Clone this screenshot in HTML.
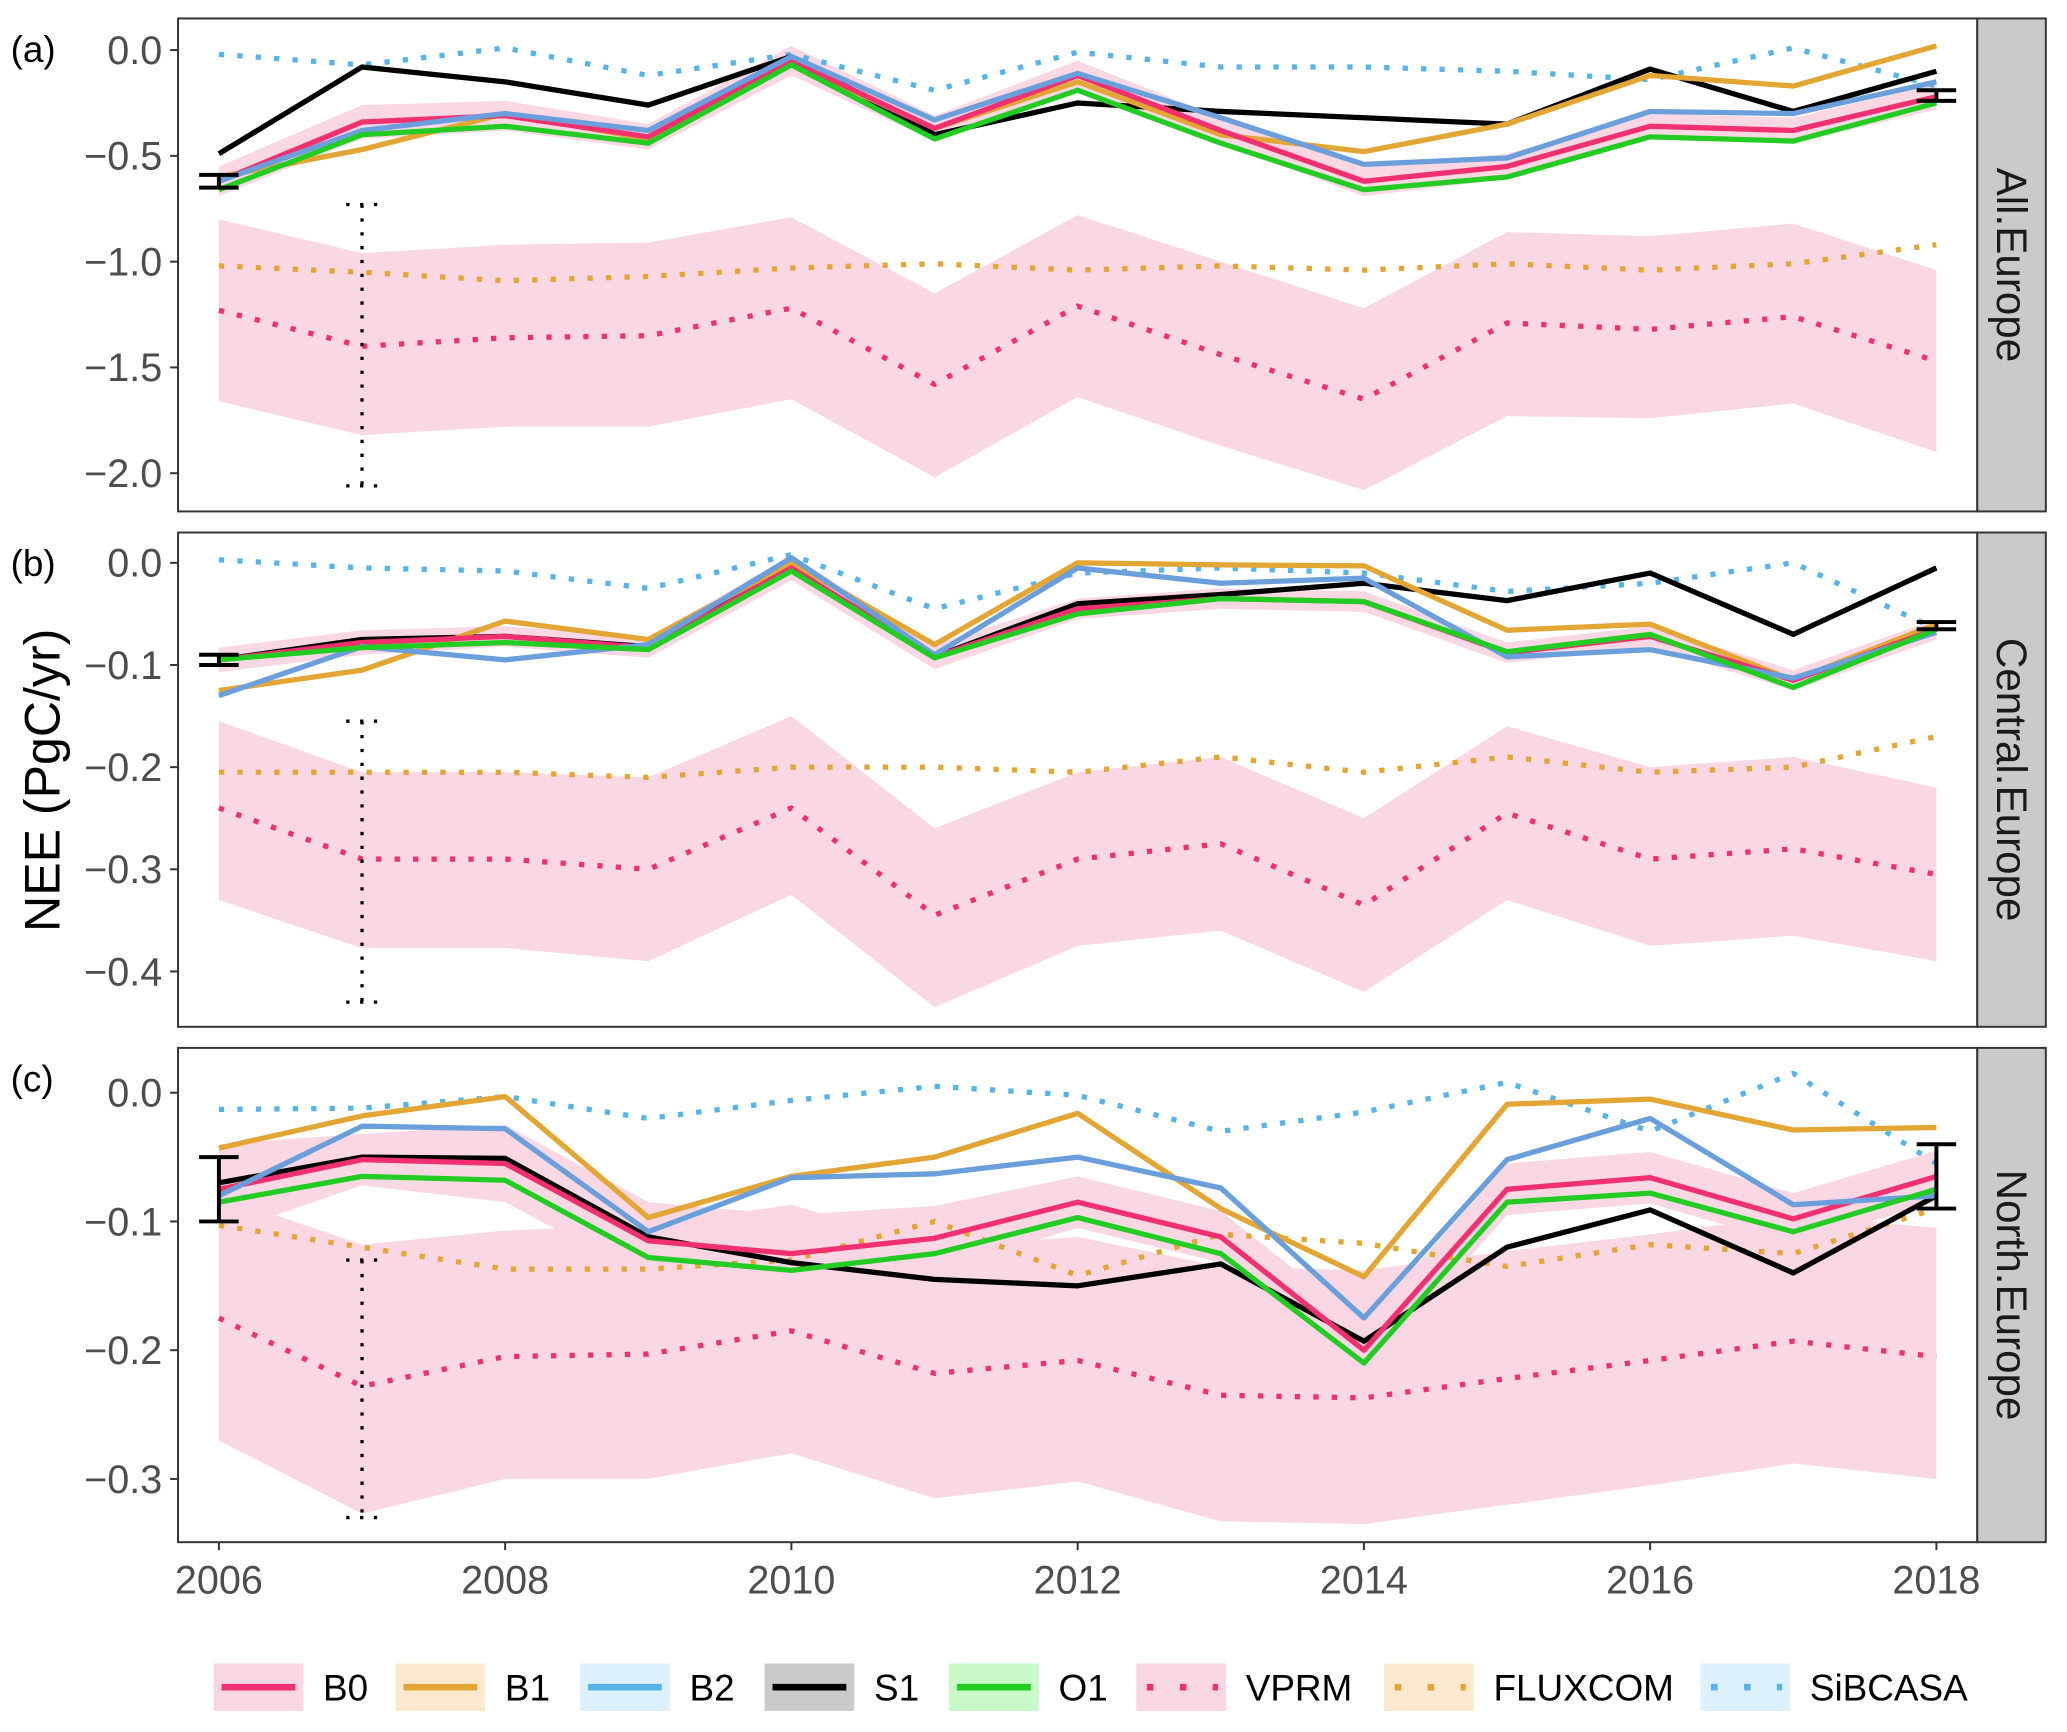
<!DOCTYPE html>
<html><head><meta charset="utf-8"><style>
html,body{margin:0;padding:0;background:#fff;}
svg{display:block;font-family:"Liberation Sans",Arial,sans-serif;}
</style></head><body>
<svg id="chart" width="2067" height="1732" viewBox="0 0 1568 1314" xmlns="http://www.w3.org/2000/svg"></svg>
<script>
const years=[2006,2007,2008,2009,2010,2011,2012,2013,2014,2015,2016,2017,2018];
const panelNames=["All.Europe","Central.Europe","North.Europe"];
const panelTags=["(a)","(b)","(c)"];
const yTicksA=[0,-0.5,-1,-1.5,-2];
const yTickLabelsA=["0.0","\u22120.5","\u22121.0","\u22121.5","\u22122.0"];
const yTicksB=[0,-0.1,-0.2,-0.3,-0.4];
const yTickLabelsB=["0.0","\u22120.1","\u22120.2","\u22120.3","\u22120.4"];
const yTicksC=[0,-0.1,-0.2,-0.3];
const yTickLabelsC=["0.0","\u22120.1","\u22120.2","\u22120.3"];
const xTicks=[2006,2008,2010,2012,2014,2016,2018];

// Panel A
const aB0=[-0.62,-0.34,-0.31,-0.41,-0.05,-0.37,-0.12,-0.38,-0.62,-0.55,-0.36,-0.38,-0.22];
const aB1=[-0.60,-0.47,-0.30,-0.42,-0.06,-0.37,-0.15,-0.40,-0.48,-0.35,-0.12,-0.17,0.02];
const aB2=[-0.62,-0.38,-0.30,-0.38,-0.03,-0.33,-0.11,-0.32,-0.54,-0.51,-0.29,-0.30,-0.15];
const aS1=[-0.49,-0.08,-0.15,-0.26,-0.03,-0.40,-0.25,-0.29,-0.32,-0.35,-0.09,-0.29,-0.10];
const aO1=[-0.66,-0.40,-0.36,-0.44,-0.07,-0.42,-0.19,-0.44,-0.66,-0.60,-0.41,-0.43,-0.25];
const aB0Spread=[0.07,0.08,0.07,0.06,0.07,0.06,0.07,0.06,0.07,0.06,0.06,0.06,0.06];
const aVPRM=[-1.23,-1.40,-1.36,-1.35,-1.22,-1.58,-1.21,-1.44,-1.65,-1.29,-1.32,-1.26,-1.47];
const aVPRMUp=[-0.80,-0.96,-0.92,-0.91,-0.79,-1.15,-0.78,-1.00,-1.22,-0.86,-0.88,-0.82,-1.04];
const aVPRMLo=[-1.66,-1.82,-1.78,-1.78,-1.65,-2.02,-1.64,-1.87,-2.08,-1.73,-1.74,-1.67,-1.90];
const aFLUX=[-1.02,-1.05,-1.09,-1.07,-1.03,-1.01,-1.04,-1.02,-1.04,-1.01,-1.04,-1.01,-0.92];
const aSIB=[-0.02,-0.07,0.01,-0.12,-0.02,-0.19,-0.01,-0.08,-0.08,-0.10,-0.14,0.01,-0.17];
const aErr=[[-0.59,-0.65],[-0.19,-0.24]];
const aDotErr=[-0.73,-2.06];
// Panel B
const bB0=[-0.095,-0.078,-0.072,-0.083,-0.005,-0.092,-0.045,-0.035,-0.038,-0.088,-0.072,-0.115,-0.065];
const bB1=[-0.125,-0.105,-0.057,-0.075,0.0,-0.08,0.0,-0.002,-0.003,-0.066,-0.06,-0.115,-0.06];
const bB2=[-0.13,-0.082,-0.095,-0.08,0.005,-0.09,-0.005,-0.02,-0.015,-0.092,-0.085,-0.113,-0.068];
const bS1=[-0.095,-0.075,-0.072,-0.082,-0.005,-0.092,-0.04,-0.031,-0.02,-0.037,-0.01,-0.07,-0.005];
const bO1=[-0.095,-0.083,-0.078,-0.085,-0.008,-0.093,-0.05,-0.035,-0.038,-0.087,-0.07,-0.122,-0.065];
const bB0Spread=[0.012,0.012,0.01,0.01,0.012,0.012,0.01,0.01,0.01,0.01,0.01,0.01,0.01];
const bVPRM=[-0.24,-0.29,-0.29,-0.30,-0.24,-0.345,-0.29,-0.275,-0.335,-0.245,-0.29,-0.28,-0.305];
const bVPRMUp=[-0.155,-0.205,-0.205,-0.21,-0.15,-0.26,-0.205,-0.19,-0.25,-0.16,-0.2,-0.19,-0.22];
const bVPRMLo=[-0.33,-0.377,-0.377,-0.39,-0.325,-0.435,-0.375,-0.36,-0.42,-0.33,-0.375,-0.365,-0.39];
const bFLUX=[-0.205,-0.205,-0.205,-0.21,-0.2,-0.2,-0.205,-0.19,-0.205,-0.19,-0.205,-0.2,-0.17];
const bSIB=[0.003,-0.005,-0.008,-0.025,0.008,-0.045,-0.01,-0.005,-0.01,-0.028,-0.02,0.0,-0.065];
const bErr=[[-0.09,-0.10],[-0.058,-0.065]];
const bDotErr=[-0.155,-0.43];
// Panel C
const cB0=[-0.075,-0.052,-0.055,-0.115,-0.125,-0.113,-0.085,-0.112,-0.2,-0.075,-0.066,-0.098,-0.065];
const cB1=[-0.043,-0.018,-0.003,-0.097,-0.065,-0.05,-0.016,-0.09,-0.143,-0.009,-0.005,-0.029,-0.027];
const cB2=[-0.08,-0.026,-0.028,-0.108,-0.066,-0.063,-0.05,-0.074,-0.175,-0.052,-0.02,-0.087,-0.08];
const cS1=[-0.07,-0.05,-0.051,-0.112,-0.132,-0.145,-0.15,-0.133,-0.193,-0.12,-0.091,-0.14,-0.08];
const cO1=[-0.085,-0.065,-0.068,-0.128,-0.138,-0.125,-0.097,-0.125,-0.21,-0.085,-0.078,-0.108,-0.075];
const cB0Spread=[0.035,0.02,0.03,0.03,0.03,0.025,0.02,0.02,0.02,0.02,0.02,0.02,0.02];
const cVPRM=[-0.175,-0.228,-0.205,-0.203,-0.185,-0.218,-0.208,-0.235,-0.237,-0.222,-0.208,-0.193,-0.205];
const cVPRMUp=[-0.08,-0.118,-0.107,-0.103,-0.087,-0.12,-0.112,-0.135,-0.138,-0.123,-0.11,-0.095,-0.105];
const cVPRMLo=[-0.27,-0.327,-0.3,-0.3,-0.28,-0.315,-0.302,-0.333,-0.335,-0.32,-0.305,-0.288,-0.3];
const cFLUX=[-0.103,-0.12,-0.137,-0.137,-0.13,-0.1,-0.142,-0.11,-0.117,-0.135,-0.118,-0.125,-0.09];
const cSIB=[-0.013,-0.012,-0.003,-0.02,-0.006,0.005,-0.002,-0.03,-0.015,0.008,-0.03,0.015,-0.055];
const cErr=[[-0.05,-0.10],[-0.04,-0.09]];
const cDotErr=[-0.13,-0.33];

const legendLabels=["B0","B1","B2","S1","O1","VPRM","FLUXCOM","SiBCASA"];
const COL={B0:"#f0306f",B1:"#e3a533",B2:"#56b4e9",S1:"#000000",O1:"#22cc22",band:"#f9d6e3"};

const svg=document.getElementById('chart');
const NS="http://www.w3.org/2000/svg";
function mk(tag,attrs,parent){const e=document.createElementNS(NS,tag);for(const k in attrs)e.setAttribute(k,attrs[k]);(parent||svg).appendChild(e);return e;}
const X0=135,X1=1500;
function xs(yr){return 166+(yr-2006)*(1469-166)/12;}

const panels=[
 {top:14,bot:388,y0:38,scale:160.5,ticks:yTicksA,lab:yTickLabelsA,B0:aB0,B1:aB1,B2:aB2,S1:aS1,O1:aO1,sp:aB0Spread,V:aVPRM,VU:aVPRMUp,VL:aVPRMLo,F:aFLUX,S:aSIB,err:aErr,de:aDotErr},
 {top:404,bot:779,y0:427,scale:775,ticks:yTicksB,lab:yTickLabelsB,B0:bB0,B1:bB1,B2:bB2,S1:bS1,O1:bO1,sp:bB0Spread,V:bVPRM,VU:bVPRMUp,VL:bVPRMLo,F:bFLUX,S:bSIB,err:bErr,de:bDotErr},
 {top:795,bot:1170,y0:829,scale:976.7,ticks:yTicksC,lab:yTickLabelsC,B0:cB0,B1:cB1,B2:cB2,S1:cS1,O1:cO1,sp:cB0Spread,V:cVPRM,VU:cVPRMUp,VL:cVPRMLo,F:cFLUX,S:cSIB,err:cErr,de:cDotErr}
];

panels.forEach((p,i)=>{
  const g=mk('g',{});
  
  
  const ys=v=>p.y0-v*p.scale;
  const cid='clip'+i;
  const cp=mk('clipPath',{id:cid},g);mk('rect',{x:X0,y:p.top,width:X1-X0,height:p.bot-p.top},cp);
  const pg=mk('g',{'clip-path':'url(#'+cid+')'},g);
  function band(up,lo,name){
    let d=years.map((y,k)=>(k?'L':'M')+xs(y)+','+ys(up[k])).join('');
    for(let k=years.length-1;k>=0;k--)d+='L'+xs(years[k])+','+ys(lo[k]);
    const e=mk('path',{d:d+'Z',fill:COL.band,'fill-opacity':0.95},pg);
    
    
  }
  function line(vals,color,dotted,name,w){
    const d=years.map((y,k)=>(k?'L':'M')+xs(y)+','+ys(vals[k])).join('');
    const e=mk('path',{d:d,fill:'none',stroke:color,'stroke-width':w||4,'stroke-linejoin':'round'},pg);
    if(dotted){e.setAttribute('stroke-dasharray','4 10');}
    
    
  }
  band(p.VU,p.VL,'vprm-band');
  band(p.B0.map((v,k)=>v+p.sp[k]),p.B0.map((v,k)=>v-p.sp[k]),'b0-band');
  line(p.F,"#e3a533",true,'fluxcom-line');
  line(p.V,COL.B0,true,'vprm-line');
  line(p.S,COL.B2,true,'sibcasa-line');
  line(p.S1,COL.S1,false,'s1-line');
  line(p.B1,COL.B1,false,'b1-line');
  line(p.B0,COL.B0,false,'b0-line');
  line(p.B2,"#6a9fdc",false,'b2-line');
  line(p.O1,COL.O1,false,'o1-line');
  [[2006,p.err[0]],[2018,p.err[1]]].forEach(([yr,e])=>{
    const x=xs(yr);
    const eb=mk('path',{d:`M${x-15},${ys(e[0])}H${x+15}M${x},${ys(e[0])}V${ys(e[1])}M${x-15},${ys(e[1])}H${x+15}`,stroke:'#000','stroke-width':3,fill:'none'},pg);
    
    
  });
  const xd=xs(2007);
  const de=mk('path',{d:`M${xd-12},${ys(p.de[0])}H${xd+12}M${xd},${ys(p.de[0])}V${ys(p.de[1])}M${xd-12},${ys(p.de[1])}H${xd+12}`,stroke:'#000','stroke-width':2.5,'stroke-dasharray':'2.5 8',fill:'none'},pg);
  
  
  mk('rect',{x:X0,y:p.top,width:X1-X0,height:p.bot-p.top,fill:'none',stroke:'#333','stroke-width':1.5},g);
  mk('rect',{x:X1,y:p.top,width:52,height:p.bot-p.top,fill:'#cacaca',stroke:'#333','stroke-width':1.5},g);
  const st=mk('text',{x:0,y:0,transform:`translate(${X1+26},${(p.top+p.bot)/2}) rotate(90)`,'text-anchor':'middle','dominant-baseline':'central','font-size':32,fill:'#1a1a1a'},g);
  st.textContent=panelNames[i];
  
  
  const tg=mk('text',{x:8,y:p.top+33,'font-size':28,fill:'#000'},g);
  tg.textContent=panelTags[i];
  
  
  p.ticks.forEach((v,k)=>{
    const y=ys(v);
    mk('line',{x1:X0-6,x2:X0,y1:y,y2:y,stroke:'#333','stroke-width':1.5},g);
    const t=mk('text',{x:X0-12,y:y+10.5,'text-anchor':'end','font-size':30,fill:'#4d4d4d'},g);
    t.textContent=p.lab[k];
    
    
  });
});
xTicks.forEach(yr=>{
  const x=xs(yr);
  mk('line',{x1:x,x2:x,y1:1170,y2:1176,stroke:'#333','stroke-width':1.5});
  const t=mk('text',{x:x,y:1209,'text-anchor':'middle','font-size':30,fill:'#4d4d4d'});
  t.textContent=yr;
  
  
});
const yt=mk('text',{x:0,y:0,transform:'translate(45,592) rotate(-90)','text-anchor':'middle','font-size':38,fill:'#000'});
yt.textContent='NEE (PgC/yr)';


const keyX=[162,300,440,580,720,862,1050,1290];
const keyFill=["#f9d6e3","#fbe9cf","#dcf1fc","#cacaca","#c9f8c9","#f9d6e3","#fbe9cf","#dcf1fc"];
const keyCol=[COL.B0,COL.B1,COL.B2,"#000",COL.O1,COL.B0,"#e3a533",COL.B2];
legendLabels.forEach((lab,k)=>{
  const g=mk('g',{});
  
  
  mk('rect',{x:keyX[k],y:1262,width:68,height:36,fill:keyFill[k]},g);
  const l=mk('line',{x1:keyX[k]+6,x2:keyX[k]+62,y1:1280,y2:1280,stroke:keyCol[k],'stroke-width':5},g);
  if(k>=5){l.setAttribute('stroke-dasharray','5 20');l.setAttribute('x1',keyX[k]+8);}
  const t=mk('text',{x:keyX[k]+83,y:1290,'font-size':28,fill:'#000'},g);
  t.textContent=lab;
});
</script>
</body></html>
